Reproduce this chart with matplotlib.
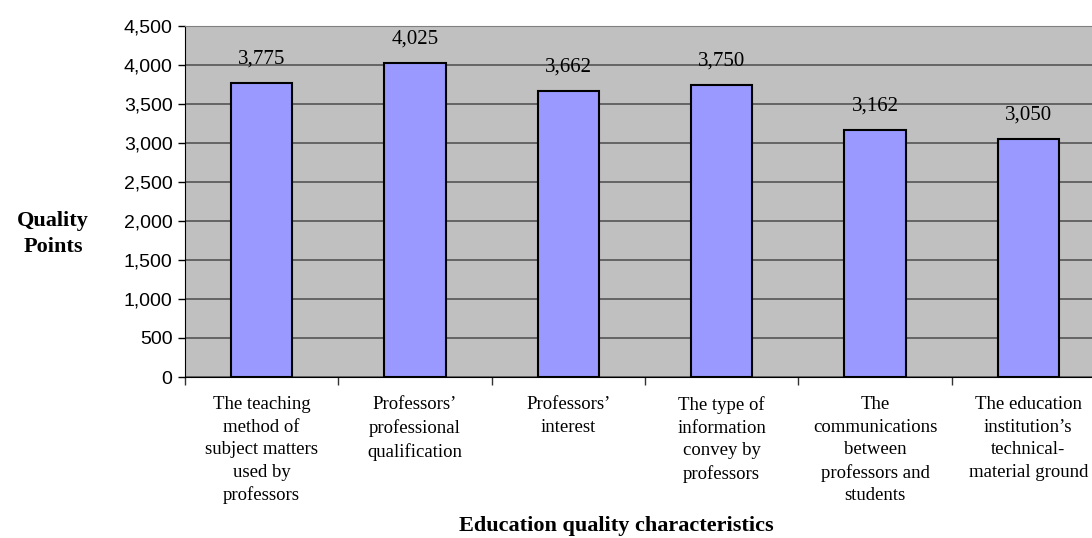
import matplotlib.pyplot as plt

# quality points per education characteristic
categories = [
    "The teaching\nmethod of\nsubject matters\nused by\nprofessors",
    "Professors’\nprofessional\nqualification",
    "Professors’\ninterest",
    "The type of\ninformation\nconvey by\nprofessors",
    "The\ncommunications\nbetween\nprofessors and\nstudents",
    "The education\ninstitution’s\ntechnical-\nmaterial ground",
]
points = [3775, 4025, 3662, 3750, 3162, 3050]
point_labels = ["3,775", "4,025", "3,662", "3,750", "3,162", "3,050"]
yticks = [0, 500, 1000, 1500, 2000, 2500, 3000, 3500, 4000, 4500]

fig = plt.figure(figsize=(10.92, 5.38), dpi=100)
# plot area runs a little past the right edge of the image
ax = fig.add_axes([185 / 1092, 1 - 377 / 538, 920 / 1092, 351 / 538])
ax.set_facecolor("#c0c0c0")

x = list(range(len(points)))
ax.bar(x, points, width=0.4, color="#9999ff", edgecolor="black", linewidth=1.5, zorder=3)

for xi, v, lab in zip(x, points, point_labels):
    ax.annotate(lab, (xi, v), xytext=(0, 14), textcoords="offset points",
                ha="center", va="baseline", fontsize=15, family="Liberation Serif", zorder=4)

ax.set_xlim(-0.5, len(points) - 0.5)
ax.set_ylim(0, 4500)
ax.set_yticks(yticks)
ax.set_yticklabels([f"{t:,}" for t in yticks], fontsize=14, family="Liberation Sans")
ax.yaxis.grid(True, color="#555555", linewidth=1.2, zorder=1)
ax.tick_params(axis="y", length=5, width=1, pad=4)

# ticks between categories, labels centred under the bars
ax.set_xticks([i - 0.5 for i in x] + [len(points) - 0.5])
ax.set_xticklabels([])
ax.tick_params(axis="x", length=6, width=1, color="#333333")
for xi, cat in zip(x, categories):
    ax.text(xi, -0.055, cat, transform=ax.get_xaxis_transform(), ha="center", va="top",
            fontsize=13.5, family="Liberation Serif", linespacing=1.42)

for side in ["top", "right"]:
    ax.spines[side].set_color("#808080")
ax.spines["left"].set_color("black")
ax.spines["bottom"].set_color("black")

fig.text(53 / 1092, 1 - 234 / 538, "Quality\nPoints", ha="center", va="center",
         fontsize=16, fontweight="bold", family="Liberation Serif", linespacing=1.45)
fig.text(616 / 1092, 1 - 526 / 538, "Education quality characteristics", ha="center", va="center",
         fontsize=16, fontweight="bold", family="Liberation Serif")

fig.savefig("out.png", dpi=100)
